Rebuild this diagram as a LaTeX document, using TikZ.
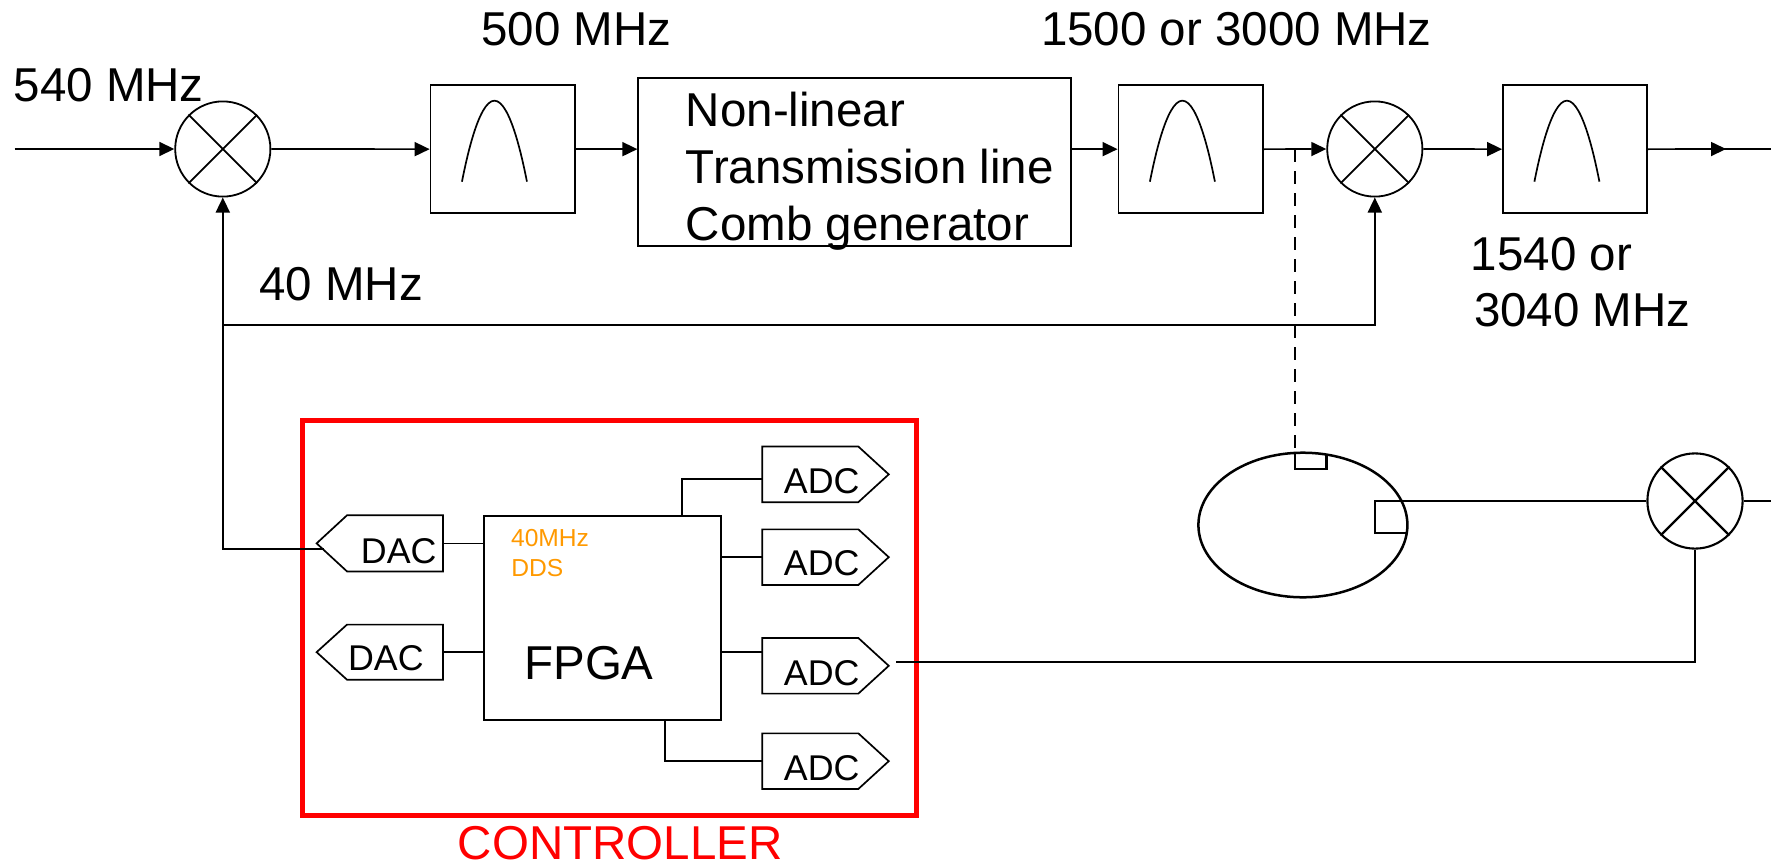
\documentclass[tikz,border=0pt]{standalone}
\usepackage{fontspec}
\setmainfont{Liberation Sans}
\usetikzlibrary{arrows.meta,shapes.geometric}
\definecolor{ddsorange}{RGB}{255,153,0}
\newcommand\adcoutline[1]{\draw[ln] (#1.south west) -- (#1.north west) -- ([xshift=-15.2pt]#1.north east) -- (#1.east) -- ([xshift=-15.2pt]#1.south east) -- cycle;}
\newcommand\dacoutline[1]{\draw[ln] (#1.south east) -- (#1.north east) -- ([xshift=15.2pt]#1.north west) -- (#1.west) -- ([xshift=15.2pt]#1.south west) -- cycle;}
\begin{document}
\begin{tikzpicture}[x=0.5pt,y=-0.5pt,
  ln/.style={line width=0.85pt},
  bold/.style={line width=1.15pt},
  arr/.style={line width=0.85pt,-{Triangle[length=7.5pt,width=7pt]}},
  mixer/.style={circle,draw,line width=0.9pt,minimum size=47.6pt,inner sep=0pt},
  filt/.style={rectangle,draw,line width=0.9pt,minimum width=72.1pt,minimum height=64.15pt,inner sep=0pt,
    path picture={\draw[line width=0.85pt,shift={(path picture bounding box.center)}] (-40.7,32.5) parabola bend (-8.2,-48.5) (24.3,32.5);}},
  box/.style={rectangle,draw,line width=0.9pt,inner sep=0pt},
  conv/.style={rectangle,inner sep=0pt,minimum width=62.9pt,minimum height=27.4pt},
  big/.style={font=\fontsize{23.75pt}{28.5pt}\selectfont,inner sep=0pt,anchor=base west},
  small/.style={font=\fontsize{17.9pt}{21pt}\selectfont,inner sep=0pt,anchor=base west},
  dds/.style={font=\fontsize{12.3pt}{15pt}\selectfont,text=ddsorange,inner sep=0pt,anchor=base west}]
\useasboundingbox (0,0) rectangle (1771,867);

% ---- top chain ----
\node[mixer] (m1) at (222.8,149) {};
\draw[ln] (m1.north west) -- (m1.south east) (m1.north east) -- (m1.south west);
\node[filt] (f1) at (502.65,149.15) {};
\node[box,minimum width=216.2pt,minimum height=83.7pt] (nltl) at (854.5,162) {};
\node[filt] (f2) at (1190.6,149.15) {};
\node[mixer] (m2) at (1374.8,149) {};
\draw[ln] (m2.north west) -- (m2.south east) (m2.north east) -- (m2.south west);
\node[filt] (f3) at (1575.1,149.15) {};

\node[big] (l540) at (13.3,101.7) {540 MHz};
\node[big] (l500) at (481,46) {500 MHz};
\node[big] (l1500) at (1040.6,46) {1500 or 3000 MHz};
\node[big] (l40) at (259,300.7) {40 MHz};
\node[big] (l1540a) at (1470.5,270) {1540 or};
\node[big] (l1540b) at (1473.7,326.7) {3040 MHz};
\node[big] (t1) at (685.5,126) {Non-linear};
\node[big] (t2) at (685.5,183.3) {Transmission line};
\node[big] (t3) at (685.5,240.7) {Comb generator};

\coordinate (in) at (14.5,149);
\draw[arr] (in) -- (m1.west);
\draw[arr] (m1.east) -- (f1.west);
\draw[arr] (f1.east) -- (f1.east -| nltl.west);
\draw[arr] (f2.west -| nltl.east) -- (f2.west);
\draw[arr] (f2.east) -- (m2.west);
\draw[arr] (m2.east) -- (f3.west);
\coordinate (outtip) at (1726,149);
\coordinate (outend) at (1771,149);
\draw[arr] (f3.east) -- (outtip);
\draw[line width=1.3pt] ([xshift=-4pt]outtip) -- (outend);

% ---- cavity and third mixer ----
\node[ellipse,draw,line width=1.25pt,minimum width=104.5pt,minimum height=72.3pt,inner sep=0pt] (cav) at (1302.9,525) {};
\coordinate (tap) at (1295,149);
\coordinate (tapend) at (1295,453);
\draw[ln,dash pattern=on 6.5pt off 4.5pt] (tap) -- (tapend);
\draw[bold] (tapend) -- ++(0,16.3) -- ++(31.6,0) -- ++(0,-14.7);
\node[mixer,line width=1.05pt] (m3) at (1695,501) {};
\draw[bold] (m3.north west) -- (m3.south east) (m3.north east) -- (m3.south west);
\coordinate (pr) at (1375,501);
\draw[bold] (m3.west) -- (pr) -- ++(0,32.3) -- ++(31.7,0);
\coordinate (m3out) at (1771,501);
\draw[bold] (m3.east) -- (m3out);

% ---- controller ----
\node[draw=red,line width=2.5pt,minimum width=306.75pt,minimum height=197.35pt,inner sep=0pt] (ctrl) at (609.25,618.15) {};
\node[big,text=red] (lctrl) at (457.4,859) {CONTROLLER};
\node[box,minimum width=118.5pt,minimum height=102pt] (fpga) at (602.5,618) {};
\node[big] (lfpga) at (523.9,679) {FPGA};
\node[dds] (ldds1) at (510.7,546.7) {40MHz};
\node[dds] (ldds2) at (511,576.7) {DDS};

\node[conv,minimum width=62.75pt,minimum height=27.65pt] (dac1) at (379.75,543.35) {};
\dacoutline{dac1}
\node[small] (ldac1) at (360.5,563.3) {DAC};
\node[conv,minimum width=62.75pt,minimum height=27.15pt] (dac2) at (379.75,652.15) {};
\dacoutline{dac2}
\node[small] (ldac2) at (347.7,670) {DAC};

\node[conv] (adc1) at (825.45,474.35) {};
\adcoutline{adc1}
\node[small] (ladc1) at (783.5,493.3) {ADC};
\node[conv] (adc2) at (825.45,557.15) {};
\adcoutline{adc2}
\node[small] (ladc2) at (783.5,575) {ADC};
\node[conv] (adc3) at (825.45,665.8) {};
\adcoutline{adc3}
\node[small] (ladc3) at (783.5,685) {ADC};
\node[conv] (adc4) at (825.45,761.15) {};
\adcoutline{adc4}
\node[small] (ladc4) at (783.5,780) {ADC};

\draw[ln] (dac1.east) -- (dac1.east -| fpga.west);
\draw[ln] (dac2.east) -- (dac2.east -| fpga.west);
\coordinate (a1turn) at (682,479.3);
\draw[ln] (a1turn |- fpga.north) -- (a1turn) -- (a1turn -| adc1.west);
\draw[ln] (fpga.east |- adc2.west) -- (adc2.west);
\draw[ln] (fpga.east |- dac2.east) -- (adc3.west |- dac2.east);
\coordinate (a4turn) at (665.2,760.7);
\draw[ln] (fpga.south -| a4turn) -- (a4turn) -- (adc4.west |- a4turn);

% ---- 40 MHz loop and feedback ----
\coordinate (dacin) at (323.6,549.3);
\draw[arr] (dacin) -| (m1.south);
\coordinate (j40) at (222.8,325);
\draw[arr] (j40) -| (m2.south);
\coordinate (adc3out) at (896,661.7);
\draw[bold] (adc3out) -| (m3.south);
\end{tikzpicture}
\end{document}
